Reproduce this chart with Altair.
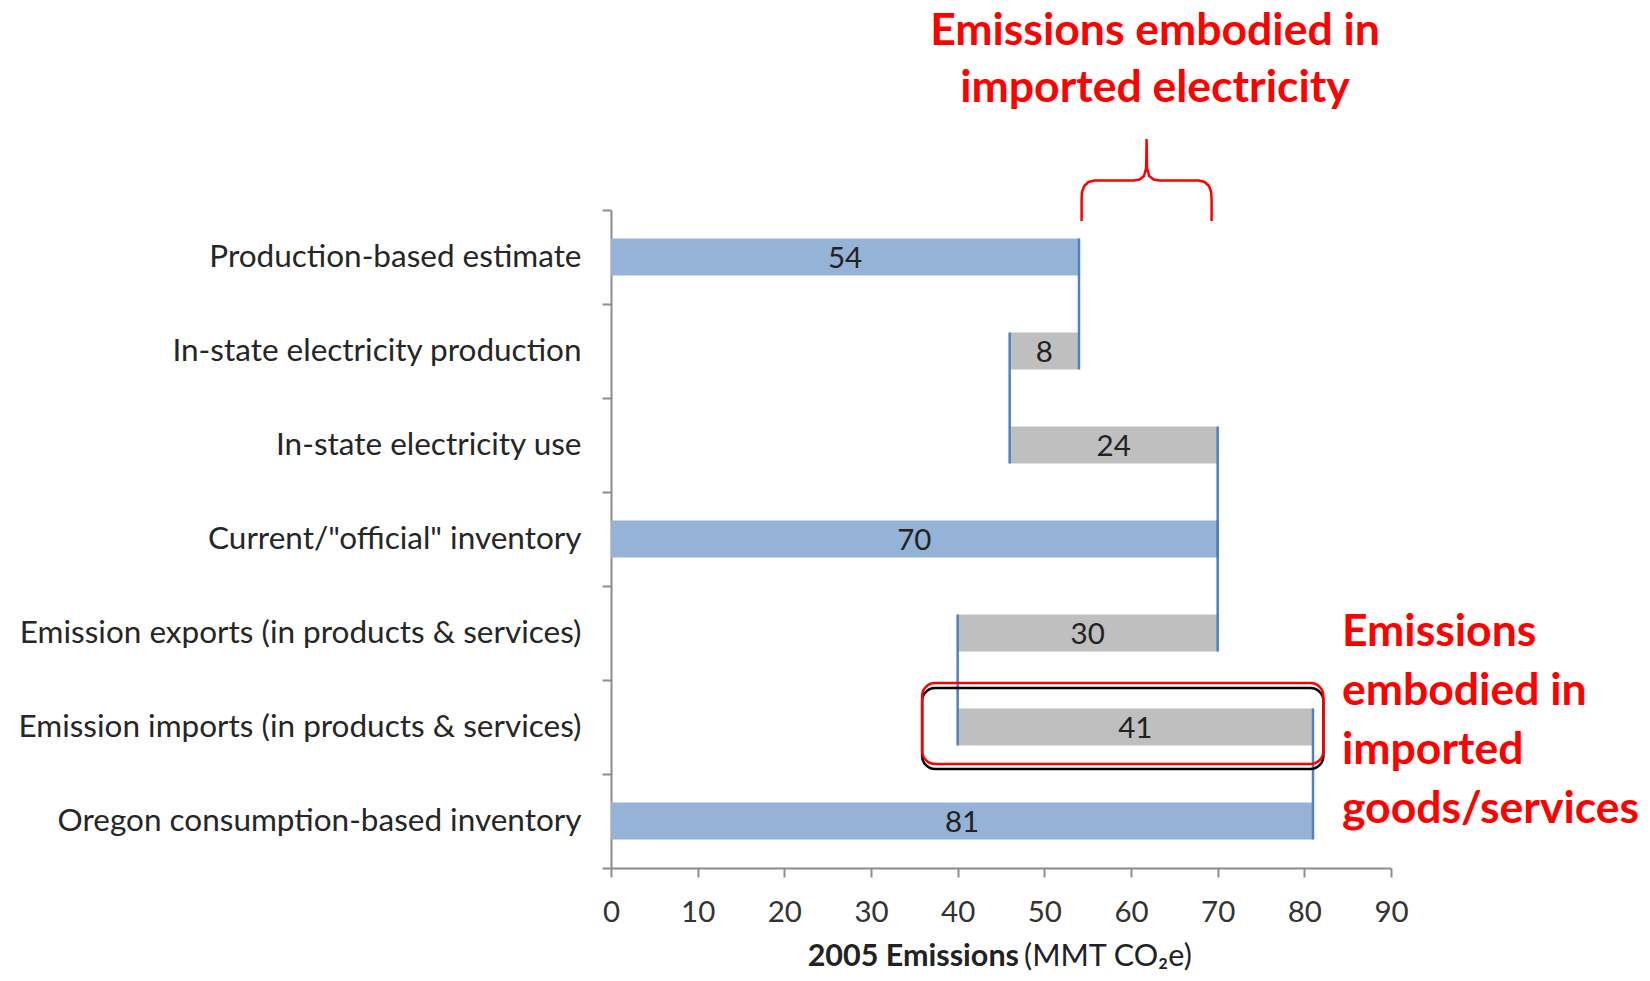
import altair as alt
import pandas as pd

# ---- data ----
categories = [
    "Production-based estimate",
    "In-state electricity production",
    "In-state electricity use",
    'Current/"official" inventory',
    "Emission exports (in products & services)",
    "Emission imports (in products & services)",
    "Oregon consumption-based inventory",
]
bar_start = [0, 46, 46, 0, 40, 40, 0]
bar_end = [54, 54, 70, 70, 70, 81, 81]
bar_label = [54, 8, 24, 70, 30, 41, 81]
bar_kind = ["total", "step", "step", "total", "step", "step", "total"]
x_ticks = [0, 10, 20, 30, 40, 50, 60, 70, 80, 90]

# highlight box around the imports bar (data units)
box_cat = ["Emission imports (in products & services)"]
box_x0 = [35.9]
box_x1 = [82.2]

# brace over imported electricity (x in data units, y in px from plot top)
brace_x = [54.3, 54.3, 54.35, 54.6, 55.1, 55.8, 60.3, 61.0, 61.5, 61.75, 61.8,
           61.85, 62.1, 62.6, 63.3, 67.8, 68.5, 69.0, 69.25, 69.3, 69.3]
brace_y = [11, -10, -18, -24, -28, -29.5, -29.5, -30.5, -34, -42, -71,
           -42, -34, -30.5, -29.5, -29.5, -28, -24, -18, -10, 11]

top_note = "Emissions embodied in\nimported electricity"
side_note = "Emissions\nembodied in\nimported\ngoods/services"

W, H = 780, 658
BAR = 37
FONT = "Lato"
BLUE = "#95B3D7"
GRAY = "#BFBFBF"
LINE = "#4F81BD"
AXIS = "#8C8C8C"
RED = "#FF0000"

bars = pd.DataFrame({
    "cat": categories, "start": bar_start, "end": bar_end,
    "label": bar_label, "kind": bar_kind,
})
bars["mid"] = (bars["start"] + bars["end"]) / 2

conn_rows = []
for i in range(len(categories) - 1):
    a = {bar_start[i], bar_end[i]}
    b = {bar_start[i + 1], bar_end[i + 1]}
    for v in sorted(a & b):
        conn_rows.append({"c1": categories[i], "c2": categories[i + 1], "x": v})
conns = pd.DataFrame(conn_rows)

ysc = alt.Scale(domain=categories, paddingInner=0, paddingOuter=0)
xsc = alt.Scale(domain=[0, 90], nice=False, zero=True)

y_enc = alt.Y(
    "cat:N", scale=ysc, sort=categories, title=None,
    axis=alt.Axis(
        tickBand="extent", domainColor=AXIS, domainWidth=2, tickColor=AXIS,
        tickWidth=2, tickSize=9, labelFont=FONT, labelFontSize=31.5,
        labelColor="#262626", labelPadding=21, labelLimit=1000, grid=False,
    ),
)
x_enc = alt.X(
    "start:Q", scale=xsc, title=None,
    axis=alt.Axis(
        values=x_ticks, grid=False, domainColor=AXIS, domainWidth=2,
        tickColor=AXIS, tickWidth=2, tickSize=9, labelFont=FONT,
        labelFontSize=29.5, labelColor="#333333", labelPadding=21,
        labelFlush=False,
    ),
)

base = alt.Chart(bars)
bar_layer = base.mark_bar(size=BAR).encode(
    y=y_enc, x=x_enc, x2="end:Q",
    color=alt.Color("kind:N", scale=alt.Scale(domain=["total", "step"], range=[BLUE, GRAY]), legend=None),
)
text_layer = base.mark_text(font=FONT, fontSize=29.5, color="#222222", baseline="middle", dy=2).encode(
    y=alt.Y("cat:N", scale=ysc, sort=categories),
    x=alt.X("mid:Q", scale=xsc),
    text="label:Q",
)
conn_layer = alt.Chart(conns).mark_rule(color=LINE, strokeWidth=2.5, yOffset=-BAR / 2, y2Offset=BAR / 2).encode(
    y=alt.Y("c1:N", scale=ysc, sort=categories),
    y2="c2:N",
    x=alt.X("x:Q", scale=xsc),
)

box = pd.DataFrame({"cat": box_cat, "x0": box_x0, "x1": box_x1})
box_black = alt.Chart(box).mark_bar(size=81, cornerRadius=13, fill="transparent", stroke="black",
                                    strokeWidth=2.5, yOffset=1.5).encode(
    y=alt.Y("cat:N", scale=ysc, sort=categories), x=alt.X("x0:Q", scale=xsc), x2="x1:Q")
box_red = alt.Chart(box).mark_bar(size=81, cornerRadius=13, fill="transparent", stroke=RED,
                                  strokeWidth=2.5, yOffset=-3.5).encode(
    y=alt.Y("cat:N", scale=ysc, sort=categories), x=alt.X("x0:Q", scale=xsc), x2="x1:Q")

top_txt = alt.Chart(pd.DataFrame({"t": [top_note]})).mark_text(
    font=FONT, fontSize=44.5, fontWeight="bold", color=RED, align="center",
    baseline="alphabetic", lineBreak="\n", lineHeight=57,
).encode(text="t:N", x=alt.value(544), y=alt.value(-165))
side_txt = alt.Chart(pd.DataFrame({"t": [side_note]})).mark_text(
    font=FONT, fontSize=44.5, fontWeight="bold", color=RED, align="left",
    baseline="alphabetic", lineBreak="\n", lineHeight=59,
).encode(text="t:N", x=alt.value(731), y=alt.value(436))

title_b = alt.Chart(pd.DataFrame({"t": ["2005 Emissions"]})).mark_text(
    font=FONT, fontSize=30.5, fontWeight="bold", color="#222222", align="right", baseline="middle",
).encode(text="t:N", x=alt.value(408), y=alt.value(747))
title_n = alt.Chart(pd.DataFrame({"t": ["(MMT CO₂e)"]})).mark_text(
    font=FONT, fontSize=30.5, color="#222222", align="left", baseline="middle",
).encode(text="t:N", x=alt.value(413), y=alt.value(747))

brace = alt.Chart(pd.DataFrame({"x": brace_x, "y": brace_y, "o": list(range(len(brace_x)))})).mark_line(
    color=RED, strokeWidth=2.5, clip=False,
).encode(
    x=alt.X("x:Q", scale=xsc),
    y=alt.Y("y:Q", scale=alt.Scale(domain=[0, H], reverse=True, nice=False, zero=False), axis=None),
    order="o:Q",
)

main = alt.layer(bar_layer, conn_layer, text_layer, box_black, box_red, top_txt, side_txt, title_b, title_n)
chart = alt.layer(main, brace).resolve_scale(y="independent").properties(
    width=W, height=H,
    background="white",
    autosize=alt.AutoSizeParams(type="none"),
    padding={"left": 603, "top": 202, "right": 250, "bottom": 105},
).configure_view(strokeWidth=0, stroke="transparent")

chart.save("out.html", embed_options={"renderer": "svg", "actions": False})
